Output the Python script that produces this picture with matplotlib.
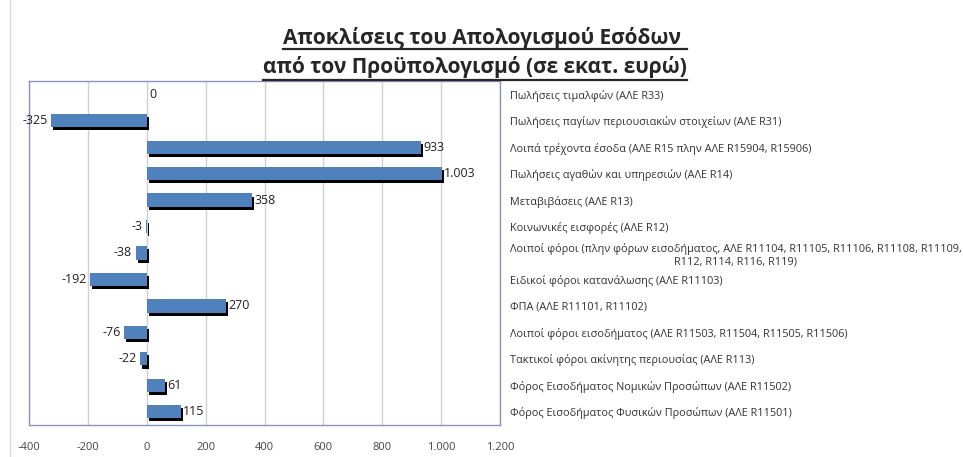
import matplotlib.pyplot as plt
import matplotlib.patheffects as pe
from matplotlib.lines import Line2D
from matplotlib.patches import Rectangle

plt.rcParams['font.family'] = ['Open Sans', 'DejaVu Sans']

# categories top to bottom as shown in the chart
categories = [
    'Πωλήσεις τιμαλφών (ΑΛΕ R33)',
    'Πωλήσεις παγίων περιουσιακών στοιχείων (ΑΛΕ R31)',
    'Λοιπά τρέχοντα έσοδα (ΑΛΕ R15 πλην ΑΛΕ R15904, R15906)',
    'Πωλήσεις αγαθών και υπηρεσιών (ΑΛΕ R14)',
    'Μεταβιβάσεις (ΑΛΕ R13)',
    'Κοινωνικές εισφορές (ΑΛΕ R12)',
    'Λοιποί φόροι (πλην φόρων εισοδήματος, ΑΛΕ R11104, R11105, R11106, R11108, R11109,\nR112, R114, R116, R119)',
    'Ειδικοί φόροι κατανάλωσης (ΑΛΕ R11103)',
    'ΦΠΑ (ΑΛΕ R11101, R11102)',
    'Λοιποί φόροι εισοδήματος (ΑΛΕ R11503, R11504, R11505, R11506)',
    'Τακτικοί φόροι ακίνητης περιουσίας (ΑΛΕ R113)',
    'Φόρος Εισοδήματος Νομικών Προσώπων (ΑΛΕ R11502)',
    'Φόρος Εισοδήματος Φυσικών Προσώπων (ΑΛΕ R11501)',
]
values = [0, -325, 933, 1003, 358, -3, -38, -192, 270, -76, -22, 61, 115]
xticks = [-400, -200, 0, 200, 400, 600, 800, 1000, 1200]


def fmt(v):
    return '{:,}'.format(v).replace(',', '.')


fig = plt.figure(figsize=(9.63, 4.57), dpi=100)
fig.patches.append(Rectangle((10 / 963, -0.1), 1.2, 1.2 - 8 / 457 + 0.1, transform=fig.transFigure,
                             fill=False, edgecolor='#d9d9d9', linewidth=1))

ax = fig.add_axes([29 / 963, 1 - 425 / 457, 471 / 963, 344 / 457])

pos = list(range(len(categories)))
bars = ax.barh(pos, values, height=0.5, color='#4F81BD', zorder=3)
for b in bars:
    b.set_path_effects([pe.SimplePatchShadow(offset=(1.5, -2.2), shadow_rgbFace='black', alpha=1),
                        pe.Normal()])

for p, v in zip(pos, values):
    if v >= 0:
        ax.text(v + 8, p, fmt(v), ha='left', va='center', fontsize=9, color='#222222', zorder=4)
    else:
        ax.text(v - 12, p, fmt(v), ha='right', va='center', fontsize=9, color='#222222', zorder=4)

ax.set_xlim(-400, 1200)
ax.set_ylim(len(categories) - 0.5, -0.5)
ax.set_xticks(xticks)
ax.set_xticklabels([fmt(t) for t in xticks], fontsize=8, color='#444444')
ax.xaxis.grid(True, color='#d0d0d0', linewidth=1, zorder=0)
ax.tick_params(axis='x', length=0, pad=12)

ax.yaxis.tick_right()
ax.set_yticks(pos)
ax.set_yticklabels(categories, fontsize=7.8, color='#333333')
for lab in ax.get_yticklabels():
    lab.set_multialignment('center')
ax.tick_params(axis='y', length=0, pad=7)

for s in ax.spines.values():
    s.set_color('#8d8fbd')
    s.set_linewidth(1)

t1 = fig.text(485 / 963, 1 - 38 / 457, 'Αποκλίσεις του Απολογισμού Εσόδων ', ha='center', va='center',
              fontsize=15, fontweight='bold', color='#262626')
t2 = fig.text(475 / 963, 1 - 67 / 457, 'από τον Προϋπολογισμό (σε εκατ. ευρώ)', ha='center', va='center',
              fontsize=15, fontweight='bold', color='#262626')

fig.canvas.draw()
r = fig.canvas.get_renderer()
for t, yline in ((t1, 48.5), (t2, 80)):
    bb = t.get_window_extent(renderer=r)
    y = 1 - yline / 457
    fig.add_artist(Line2D([bb.x0 / 963, bb.x1 / 963], [y, y], transform=fig.transFigure,
                          color='#262626', linewidth=1.6))

fig.savefig('out.png', dpi=100)
